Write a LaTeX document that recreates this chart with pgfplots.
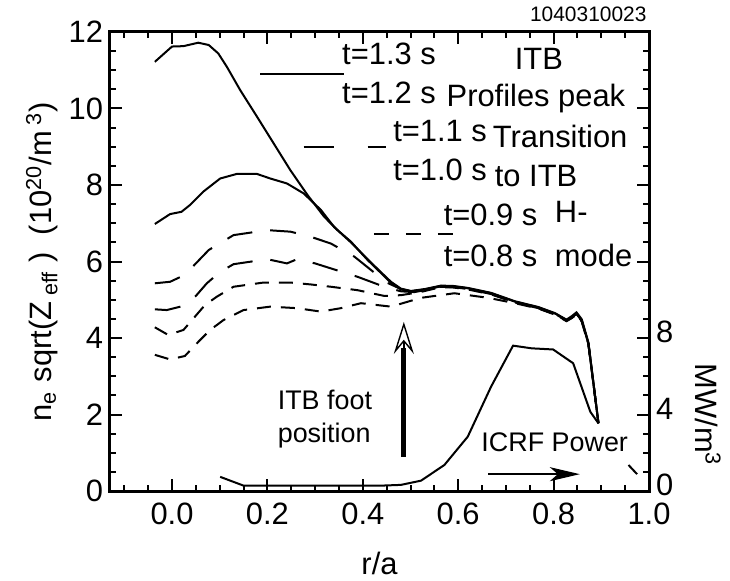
\documentclass[border=0pt]{standalone}
\usepackage{fontspec}
\setmainfont{Liberation Sans}
\usepackage{pgfplots}
\pgfplotsset{compat=1.18}
\usetikzlibrary{arrows.meta}

\newcommand{\lbl}{\fontsize{15.5}{18}\selectfont}
\newcommand{\smlbl}{\fontsize{13.5}{16}\selectfont}

\pgfplotsset{
  frame/.style={
    width=269.5bp, height=229.5bp, scale only axis,
    xmin=-0.13, xmax=1.0,
    clip=false,
    tick align=inside,
    major tick length=6bp, minor tick length=3bp,
    every tick/.style={black, line width=1bp},
    axis line style={line width=1.5bp},
    tick label style={font=\lbl},
    label style={font=\lbl},
    /pgf/number format/assume math mode=true,
  },
  longdash/.style={black, line width=1bp, dash pattern=on 13bp off 9bp},
  shortdash/.style={black, line width=1bp, dash pattern=on 7bp off 5bp},
}

\begin{document}
\begin{tikzpicture}
\useasboundingbox (-55bp,-45bp) rectangle (310bp,245.5bp);

\begin{axis}[frame,
    ymin=0, ymax=12,
    xtick={0,0.2,0.4,0.6,0.8,1.0},
    xticklabels={0.0,0.2,0.4,0.6,0.8,1.0},
    minor xtick={-0.1,-0.05,0.05,0.1,0.15,0.25,0.3,0.35,0.45,0.5,0.55,0.65,0.7,0.75,0.85,0.9,0.95},
    ytick={0,2,4,6,8,10,12},
    minor ytick={0.5,1,...,11.5},
    yticklabel pos=left,
    xticklabel pos=bottom,
    xticklabel style={yshift=-2.5bp},
    xlabel={r/a},
    xlabel style={at={(axis description cs:0.5,-0.157)}, anchor=center},
    ylabel={n\textsubscript{e} sqrt(Z\textsubscript{ eff} )\ \ (10\textsuperscript{20}/m\textsuperscript{ 3})},
    ylabel style={at={(axis description cs:-0.126,0.5)}, anchor=center},
]
% t=1.3 s
\addplot[black, line width=1bp] coordinates {
  (-0.036,11.22) (0.0,11.62) (0.024,11.63) (0.055,11.72) (0.077,11.66)
  (0.097,11.44) (0.115,11.09) (0.143,10.48) (0.178,9.79) (0.213,9.09)
  (0.248,8.39) (0.284,7.74) (0.319,7.17) (0.347,6.82) (0.375,6.52)
  (0.41,6.04) (0.438,5.70) (0.459,5.44) (0.48,5.27) (0.501,5.22)
  (0.53,5.27) (0.564,5.36) (0.59,5.35) (0.62,5.30) (0.669,5.17)
  (0.719,4.95) (0.768,4.80) (0.803,4.64) (0.827,4.47) (0.838,4.55)
  (0.848,4.65) (0.859,4.47) (0.873,3.86) (0.894,1.77)
};
% t=1.2 s
\addplot[black, line width=1bp] coordinates {
  (-0.036,6.98) (-0.004,7.24) (0.02,7.30) (0.038,7.48) (0.066,7.83)
  (0.101,8.17) (0.136,8.29) (0.178,8.29) (0.206,8.17) (0.241,8.04)
  (0.276,7.78) (0.312,7.35) (0.34,6.90) (0.375,6.50) (0.41,6.06)
  (0.438,5.72) (0.459,5.47) (0.48,5.29) (0.501,5.23)
  (0.53,5.28) (0.564,5.37) (0.59,5.36) (0.62,5.31) (0.669,5.18)
  (0.719,4.96) (0.768,4.81) (0.803,4.65) (0.827,4.48) (0.838,4.57)
  (0.848,4.67) (0.859,4.49) (0.873,3.88) (0.894,1.78)
};
% t=1.1 s
\addplot[longdash] coordinates {
  (-0.036,5.43) (-0.004,5.47) (0.027,5.65) (0.05,5.95) (0.077,6.30)
  (0.129,6.69) (0.2,6.82) (0.248,6.78) (0.29,6.65) (0.333,6.47)
  (0.382,6.13) (0.42,5.75) (0.45,5.45) (0.48,5.28) (0.501,5.22)
  (0.53,5.26) (0.564,5.35) (0.59,5.34) (0.62,5.29) (0.669,5.16)
  (0.719,4.94) (0.768,4.79) (0.803,4.63) (0.827,4.46) (0.838,4.54)
  (0.848,4.64) (0.859,4.46) (0.873,3.85) (0.894,1.77)
};
% t=1.0 s
\addplot[longdash] coordinates {
  (-0.036,4.75) (-0.011,4.73) (0.024,4.84) (0.05,5.10) (0.073,5.43)
  (0.1,5.72) (0.129,5.93) (0.2,6.06) (0.241,5.95) (0.262,6.06)
  (0.3,5.95) (0.333,5.82) (0.389,5.60) (0.445,5.34) (0.48,5.22)
  (0.508,5.20) (0.53,5.25) (0.564,5.34) (0.59,5.33) (0.62,5.28)
  (0.669,5.15) (0.719,4.93) (0.768,4.78) (0.803,4.62) (0.827,4.45)
  (0.838,4.53) (0.848,4.63) (0.859,4.45) (0.873,3.84) (0.894,1.77)
};
% t=0.9 s
\addplot[shortdash] coordinates {
  (-0.036,4.28) (-0.008,4.08) (0.024,4.21) (0.069,4.86) (0.094,5.08)
  (0.129,5.34) (0.192,5.45) (0.248,5.45) (0.291,5.40) (0.333,5.34)
  (0.389,5.25) (0.445,5.10) (0.48,5.12) (0.52,5.20) (0.564,5.33)
  (0.59,5.32) (0.62,5.27) (0.669,5.14) (0.719,4.93) (0.768,4.78)
  (0.803,4.62) (0.827,4.45) (0.838,4.53) (0.848,4.62) (0.859,4.44)
  (0.873,3.84) (0.894,1.77)
};
% t=0.8 s
\addplot[shortdash] coordinates {
  (-0.036,3.56) (-0.004,3.44) (0.027,3.53) (0.052,3.86) (0.08,4.21)
  (0.108,4.47) (0.15,4.73) (0.206,4.82) (0.262,4.78) (0.312,4.69)
  (0.354,4.78) (0.396,4.91) (0.431,4.86) (0.459,4.82) (0.522,5.05)
  (0.592,5.17) (0.663,5.05) (0.719,4.91) (0.768,4.77) (0.803,4.61)
  (0.827,4.44) (0.838,4.52) (0.848,4.61) (0.859,4.43) (0.873,3.83)
  (0.894,1.77)
};

% legend samples
\draw[black, line width=1bp] (axis cs:0.185,10.90) -- (axis cs:0.36,10.90);
\draw[black, line width=1bp, dash pattern=on 15bp off 17bp] (axis cs:0.276,8.99) -- (axis cs:0.448,8.99);
\draw[black, line width=1bp, dash pattern=on 7.5bp off 8.5bp] (axis cs:0.423,6.72) -- (axis cs:0.592,6.72);

\begin{scope}[every node/.style={font=\lbl, anchor=base west, inner sep=0pt}]
\node at (axis cs:0.356,11.14) {t=1.3 s};
\node at (axis cs:0.356,10.12) {t=1.2 s};
\node at (axis cs:0.463,9.15) {t=1.1 s};
\node at (axis cs:0.463,8.13) {t=1.0 s};
\node at (axis cs:0.569,6.95) {t=0.9 s};
\node at (axis cs:0.569,5.86) {t=0.8 s};
\node at (axis cs:0.718,11.01) {ITB};
\node at (axis cs:0.575,10.04) {Profiles peak};
\node at (axis cs:0.672,8.99) {Transition};
\node at (axis cs:0.676,7.97) {to ITB};
\node at (axis cs:0.802,7.01) {H-};
\node at (axis cs:0.802,5.86) {mode};
\node[font=\smlbl] at (axis cs:0.221,2.12) {ITB foot};
\node[font=\smlbl] at (axis cs:0.221,1.28) {position};
\node[font=\smlbl] at (axis cs:0.648,1.02) {ICRF Power};
\end{scope}

% ITB foot arrow
\draw[black, line width=2.5bp] (axis cs:0.486,0.89) -- (axis cs:0.486,3.75);
\draw[black, line width=0.7bp, -{Stealth[open, length=16bp, width=10bp, inset=6bp]}]
  (axis cs:0.486,3.6) -- (axis cs:0.486,4.42);
% ICRF arrow
\draw[black, line width=0.7bp, -{Stealth[length=15bp, width=7bp, inset=4bp]}]
  (axis cs:0.663,0.44) -- (axis cs:0.855,0.44);

\node[font=\fontsize{10.5}{12}\selectfont, anchor=base east, inner sep=0pt]
  at (rel axis cs:0.996,1.022) {1040310023};
\end{axis}

\begin{axis}[frame,
    ymin=0, ymax=24,
    axis y line*=right,
    axis x line=none,
    ytick={0,4,8},
    major tick length=0pt,
    yticklabel style={yshift=3bp},
    ylabel={MW/m\textsuperscript{3}},
    ylabel style={at={(axis description cs:1.109,0.166)}, anchor=center, rotate=180},
]
% ICRF power density
\addplot[black, line width=1bp] coordinates {
  (0.101,0.74) (0.15,0.28) (0.3,0.28) (0.438,0.28) (0.48,0.32)
  (0.522,0.54) (0.571,1.36) (0.62,2.84) (0.669,5.46) (0.715,7.60)
  (0.754,7.46) (0.799,7.40) (0.841,6.68) (0.877,4.14) (0.894,3.54)
};
\addplot[black, line width=1bp] coordinates {(0.957,1.36) (0.975,0.88)};
\end{axis}
\end{tikzpicture}
\end{document}
